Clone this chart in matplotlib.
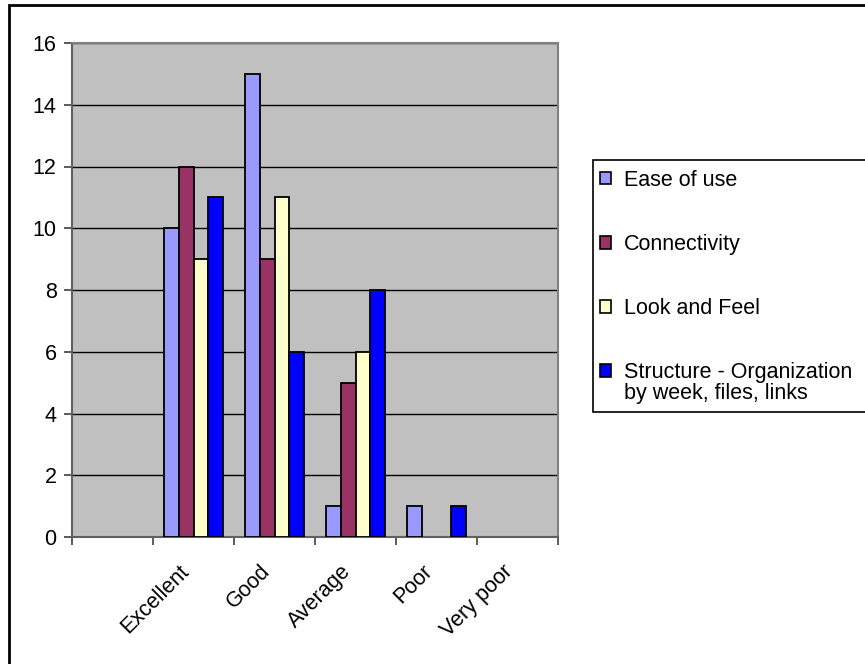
import matplotlib
matplotlib.use("Agg")
import matplotlib.pyplot as plt
from matplotlib.patches import Rectangle
import numpy as np

categories = ["", "Excellent", "Good", "Average", "Poor", "Very poor"]
series_names = ["Ease of use", "Connectivity", "Look and Feel",
                "Structure - Organization\nby week, files, links"]
ease_of_use = [0, 10, 15, 1, 1, 0]
connectivity = [0, 12, 9, 5, 0, 0]
look_and_feel = [0, 9, 11, 6, 0, 0]
structure = [0, 11, 6, 8, 1, 0]
series_values = [ease_of_use, connectivity, look_and_feel, structure]
colors = ["#9999FF", "#993366", "#FFFFCC", "#0000FF"]
yticks = [0, 2, 4, 6, 8, 10, 12, 14, 16]

plt.rcParams['font.family'] = ['Liberation Sans', 'DejaVu Sans']
FS = 15.5

W, H = 865, 664
fig = plt.figure(figsize=(W / 100, H / 100), dpi=100)
fig.patch.set_facecolor("white")

# figure border (extends past right/bottom edges)
fig.patches.append(Rectangle((8.5 / W, -0.1), 1.2, 1 - 5.5 / H + 0.1,
                             transform=fig.transFigure, fill=False,
                             edgecolor="black", linewidth=2, zorder=0))

ax = fig.add_axes([72 / W, 1 - 537 / H, (558 - 72) / W, (537 - 43) / H])
ax.set_facecolor("#C0C0C0")

x = np.arange(len(categories))
w = 0.185
for i, (vals, name, c) in enumerate(zip(series_values, series_names, colors)):
    bars = ax.bar(x + (i - 1.5) * w, vals, width=w, color=c, edgecolor="black",
                  linewidth=1.3, label=name, zorder=3)
    for b, v in zip(bars, vals):
        if v == 0:
            b.set_visible(False)

ax.set_xlim(-0.5, len(categories) - 0.5)
ax.set_ylim(0, 16)
ax.set_yticks(yticks)
ax.set_yticklabels([str(v) for v in yticks], fontsize=FS)
ax.tick_params(axis="y", direction="out", length=6, width=1.2,
               color="#404040", pad=5)

# category boundaries as major ticks, labels at centers as minor ticks
ax.set_xticks(np.arange(-0.5, len(categories), 1.0))
ax.set_xticklabels([])
ax.tick_params(axis="x", which="major", direction="out", length=6, width=1.2,
               color="#404040")
ax.set_xticks(x, minor=True)
ax.set_xticklabels(categories, minor=True, rotation=45, ha="right",
                   va="top", fontsize=FS)
ax.tick_params(axis="x", which="minor", length=0, pad=17)

ax.grid(axis="y", color="black", linewidth=1.0, zorder=1)
ax.set_axisbelow(True)
for side in ["top", "right"]:
    ax.spines[side].set_color("#808080")
    ax.spines[side].set_linewidth(1.5)
for side in ["left", "bottom"]:
    ax.spines[side].set_color("#606060")
    ax.spines[side].set_linewidth(1.5)

# legend box (extends past right edge)
fig.patches.append(Rectangle((593 / W, 1 - 412 / H), 1.0, (412 - 160) / H,
                             transform=fig.transFigure, fill=True,
                             facecolor="white", edgecolor="black",
                             linewidth=1.2, zorder=1))
leg = fig.legend(loc="upper left", bbox_to_anchor=(600 / W, 1 - 170 / H),
                 frameon=False, fontsize=FS, handlelength=0.5,
                 handleheight=0.5, handletextpad=0.6, labelspacing=2.0,
                 borderpad=0, borderaxespad=0)
leg.set_zorder(5)
for hnd in leg.legend_handles:
    hnd.set_visible(True)
    hnd.set_linewidth(1.2)
LS = 1.0
leg.get_texts()[3].set_linespacing(LS)
# align last marker with first line of its two-line label
h = leg.legend_handles[3]
h.set_y(h.get_y() + 0.5 * LS * 1.2 * FS)

fig.savefig("out.png", dpi=100)
